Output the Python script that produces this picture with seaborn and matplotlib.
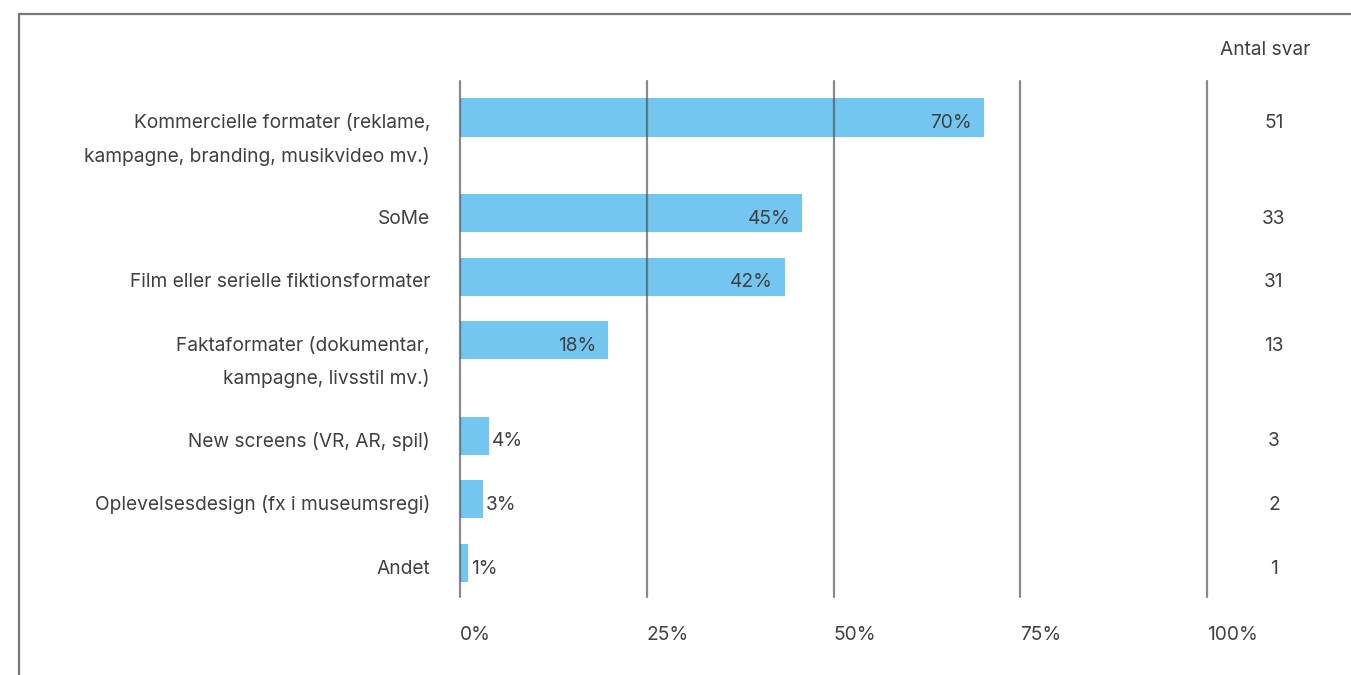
import matplotlib
matplotlib.use("Agg")
import matplotlib.pyplot as plt
import matplotlib.transforms as mtransforms
from matplotlib.lines import Line2D
import seaborn as sns
import pandas as pd
import numpy as np

# ---- data ----
categories = [
    "Kommercielle formater (reklame,\nkampagne, branding, musikvideo mv.)",
    "SoMe",
    "Film eller serielle fiktionsformater",
    "Faktaformater (dokumentar,\nkampagne, livsstil mv.)",
    "New screens (VR, AR, spil)",
    "Oplevelsesdesign (fx i museumsregi)",
    "Andet",
]
values = [70.1, 45.8, 43.5, 19.8, 3.9, 3.1, 1.1]
value_labels = ["70%", "45%", "42%", "18%", "4%", "3%", "1%"]
counts = [51, 33, 31, 13, 3, 2, 1]
x_ticks = [0, 25, 50, 75, 100]
x_tick_labels = ["0%", "25%", "50%", "75%", "100%"]
count_header = "Antal svar"

# ---- style ----
sns.set_theme(style="white")
plt.rcParams["font.family"] = ["Inter", "DejaVu Sans"]
TEXT = "#404040"
BAR = "#73C6EF"
FS = 13.8
DY = -4.0  # small downward shift of row texts, in points

# row layout: two-line labels take 1.5 rows
n_lines = [c.count("\n") + 1 for c in categories]
heights = [1.0 + 0.5 * (n - 1) for n in n_lines]
positions = [0.0]
for h in heights[:-1]:
    positions.append(positions[-1] + h)

df = pd.DataFrame({"cat": categories, "value": values, "pos": positions})

fig = plt.figure(figsize=(13.51, 6.75), dpi=100)
W, H = 1351, 675
ax = fig.add_axes([460 / W, 78 / H, 747 / W, 516 / H])

sns.barplot(data=df, x="value", y="pos", orient="h", native_scale=True,
            width=0.6, color=BAR, linewidth=0, saturation=1, ax=ax)

ax.set_xlim(0, 100)
ax.set_ylim(7.535, -0.574)
for s in ax.spines.values():
    s.set_visible(False)
ax.set_xlabel("")
ax.set_ylabel("")
ax.set_yticks([])
ax.set_xticks(x_ticks)
ax.set_xticklabels([])
ax.tick_params(length=0)

# vertical gridlines over the bars
for xv in x_ticks:
    ax.axvline(xv, color="#4d4d4d", alpha=0.65, lw=1.6, zorder=5, clip_on=False)

# x tick labels, left aligned at gridlines
tx = mtransforms.blended_transform_factory(ax.transData, ax.transAxes)
for xv, lab in zip(x_ticks, x_tick_labels):
    ax.annotate(lab, xy=(xv, 0), xycoords=tx, xytext=(0, -27), textcoords="offset points",
                ha="left", va="center", fontsize=FS, color=TEXT)

ty = mtransforms.blended_transform_factory(ax.transAxes, ax.transData)
tc = mtransforms.blended_transform_factory(fig.transFigure, ax.transData)
line_gap = 33 * 0.72
for cat, pos, val, vlab, cnt in zip(categories, positions, values, value_labels, counts):
    # category label lines
    for i, line in enumerate(cat.split("\n")):
        ax.annotate(line, xy=(0, pos), xycoords=ty, xytext=(-30 * 0.72, DY - i * line_gap),
                    textcoords="offset points", ha="right", va="center",
                    fontsize=FS, color=TEXT)
    # value label
    if val > 10:
        ax.annotate(vlab, xy=(val, pos), xytext=(-12 * 0.72, DY), textcoords="offset points",
                    ha="right", va="center", fontsize=FS, color=TEXT, zorder=6)
    else:
        ax.annotate(vlab, xy=(val, pos), xytext=(3 * 0.72, DY), textcoords="offset points",
                    ha="left", va="center", fontsize=FS, color=TEXT, zorder=6)
    # count
    ax.annotate(str(cnt), xy=(1274 / W, pos), xycoords=tc,
                xytext=(0, DY), textcoords="offset points", ha="center", va="center",
                fontsize=FS, color=TEXT)

fig.text(1265 / W, 1 - 50 / H, count_header, ha="center", va="center", fontsize=FS, color=TEXT)

# outer frame (left and top edges)
fig.add_artist(Line2D([19 / W, 19 / W], [0, 1 - 14 / H], transform=fig.transFigure, color="#777777", lw=1.6))
fig.add_artist(Line2D([19 / W, 1], [1 - 14 / H, 1 - 14 / H], transform=fig.transFigure, color="#777777", lw=1.6))

fig.savefig("out.png", dpi=100, facecolor="white")
